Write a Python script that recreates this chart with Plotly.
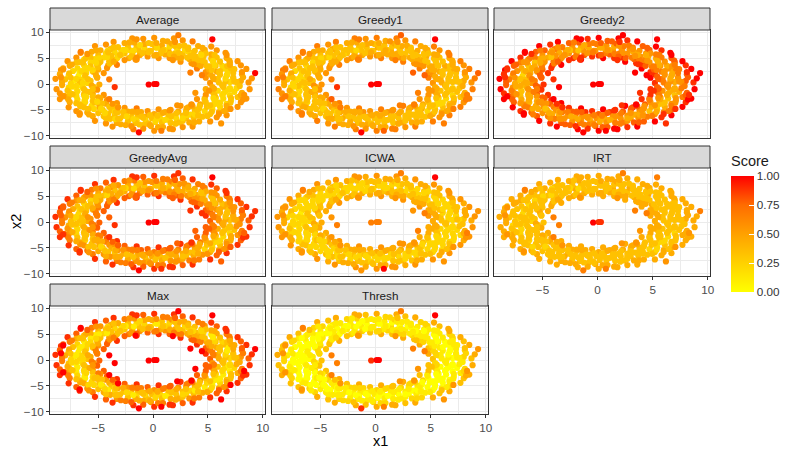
import plotly.graph_objects as go

# point cloud (x1, x2), grouped by angle around the ring
ring_pts = [
    (5.2,0.2),(6.3,-0.3),(7.0,0.4),(7.8,-0.1),(8.7,0.3),
    (5.7,0.9),(6.6,0.5),(7.3,1.0),(8.0,0.6),(9.0,1.1),
    (4.8,1.2),(5.9,1.0),(6.7,1.6),(7.3,1.3),(8.1,1.9),
    (5.2,1.9),(6.1,1.8),(6.8,2.4),(7.3,2.1),(8.5,2.9),
    (4.8,2.3),(5.8,2.4),(6.4,3.0),(7.1,3.0),(8.0,3.6),
    (5.1,2.8),(5.7,3.5),(6.3,3.5),(7.0,4.2),(7.7,4.4),
    (4.0,3.0),(4.9,3.4),(5.5,4.1),(6.1,4.3),(6.7,5.0),
    (4.1,3.8),(4.7,4.2),(5.3,4.9),(5.8,5.1),(6.6,6.0),
    (3.5,4.0),(4.2,4.6),(4.6,5.3),(5.3,5.7),(5.8,6.5),
    (3.3,4.8),(3.9,5.3),(4.4,5.9),(4.7,6.6),(5.3,7.2),
    (2.5,4.3),(3.1,5.1),(3.4,6.0),(3.8,6.4),(4.1,7.3),
    (2.2,5.1),(2.7,5.8),(2.9,6.6),(3.2,7.0),(3.6,8.2),
    (1.5,5.0),(2.0,5.9),(2.2,6.7),(2.4,7.3),(2.7,8.4),
    (1.1,5.7),(1.4,6.4),(1.5,7.2),(1.7,7.8),(1.9,8.8),
    (0.5,5.0),(0.7,5.9),(0.7,6.8),(0.8,7.4),(0.9,8.3),
    (0.1,5.5),(-0.2,6.4),(0.2,7.1),(-0.1,7.7),(0.1,8.9),
    (-0.5,5.3),(-0.7,6.2),(-0.8,7.0),(-0.8,7.7),(-0.9,8.7),
    (-1.2,5.6),(-1.3,6.5),(-1.5,7.1),(-1.7,8.0),(-1.9,8.8),
    (-1.5,4.7),(-1.9,5.7),(-2.1,6.5),(-2.3,7.1),(-2.6,7.9),
    (-2.2,5.0),(-2.6,5.9),(-2.9,6.4),(-3.2,7.1),(-3.6,8.1),
    (-2.6,4.6),(-3.2,5.4),(-3.5,6.1),(-3.9,6.7),(-4.3,7.6),
    (-3.4,4.7),(-3.8,5.4),(-4.3,5.9),(-4.8,6.5),(-5.3,7.3),
    (-3.3,3.7),(-4.0,4.4),(-4.5,5.1),(-5.0,5.5),(-5.6,6.2),
    (-4.1,3.6),(-4.8,4.3),(-5.3,4.8),(-5.7,5.1),(-6.6,6.0),
    (-4.2,3.1),(-5.1,3.6),(-5.7,4.1),(-6.3,4.7),(-7.0,5.1),
    (-5.0,2.8),(-5.7,3.4),(-6.3,3.6),(-7.0,4.1),(-7.8,4.4),
    (-4.5,2.1),(-5.5,2.4),(-6.2,2.8),(-6.9,3.0),(-7.6,3.5),
    (-5.2,1.6),(-6.1,2.1),(-6.7,2.2),(-7.3,2.5),(-8.4,2.7),
    (-5.1,1.2),(-6.2,1.3),(-6.8,1.5),(-7.7,1.6),(-8.5,1.9),
    (-5.7,0.6),(-6.6,0.8),(-7.2,0.7),(-8.0,0.9),(-8.9,1.0),
    (-4.9,-0.1),(-6.0,0.2),(-6.8,-0.2),(-7.5,0.1),(-8.3,-0.2),
    (-5.4,-0.6),(-6.4,-0.7),(-7.0,-0.8),(-7.7,-0.7),(-8.8,-1.0),
    (-5.1,-1.1),(-6.1,-1.4),(-6.9,-1.4),(-7.6,-1.7),(-8.5,-1.8),
    (-5.5,-1.9),(-6.3,-2.0),(-7.0,-2.3),(-7.7,-2.4),(-8.5,-2.9),
    (-4.5,-2.1),(-5.5,-2.4),(-6.2,-2.8),(-6.9,-3.0),(-7.6,-3.5),
    (-4.8,-2.7),(-5.5,-3.3),(-6.2,-3.5),(-6.6,-3.9),(-7.7,-4.5),
    (-4.2,-3.1),(-5.1,-3.6),(-5.6,-4.2),(-6.3,-4.5),(-7.0,-5.2),
    (-4.3,-3.8),(-4.9,-4.5),(-5.4,-4.8),(-6.0,-5.5),(-6.7,-5.9),
    (-3.3,-3.7),(-4.0,-4.4),(-4.6,-5.0),(-5.0,-5.6),(-5.5,-6.2),
    (-3.2,-4.5),(-3.8,-5.1),(-4.1,-5.8),(-4.5,-6.2),(-5.3,-7.1),
    (-2.6,-4.6),(-3.2,-5.4),(-3.5,-6.1),(-3.9,-6.7),(-4.3,-7.6),
    (-2.3,-5.3),(-2.7,-6.1),(-3.0,-6.6),(-3.3,-7.5),(-3.7,-8.2),
    (-1.5,-4.7),(-1.9,-5.6),(-2.1,-6.5),(-2.3,-7.2),(-2.5,-7.9),
    (-1.1,-5.4),(-1.4,-6.2),(-1.5,-7.0),(-1.6,-7.5),(-1.8,-8.7),
    (-0.5,-5.2),(-0.7,-6.3),(-0.7,-6.9),(-0.8,-7.8),(-0.9,-8.6),
    (0.1,-5.8),(-0.1,-6.6),(0.2,-7.3),(-0.2,-8.1),(0.1,-9.0),
    (0.5,-4.9),(0.6,-6.0),(0.7,-6.8),(0.8,-7.4),(0.9,-8.3),
    (1.1,-5.4),(1.4,-6.2),(1.5,-7.0),(1.6,-7.5),(1.8,-8.7),
    (1.6,-5.0),(2.0,-6.0),(2.1,-6.6),(2.4,-7.4),(2.7,-8.3),
    (2.3,-5.3),(2.7,-6.1),(3.0,-6.6),(3.3,-7.4),(3.6,-8.2),
    (2.5,-4.2),(3.0,-5.2),(3.4,-5.9),(3.7,-6.5),(4.2,-7.2),
    (3.2,-4.5),(3.8,-5.2),(4.1,-5.7),(4.5,-6.3),(5.2,-7.2),
    (3.5,-3.9),(4.2,-4.7),(4.7,-5.2),(5.2,-5.8),(5.8,-6.4),
    (4.3,-3.9),(4.9,-4.4),(5.4,-4.9),(6.0,-5.4),(6.7,-6.0),
    (4.0,-2.9),(4.8,-3.5),(5.5,-4.0),(6.1,-4.4),(6.7,-4.9),
    (4.7,-2.8),(5.6,-3.2),(6.1,-3.6),(6.7,-3.8),(7.7,-4.4),
    (4.8,-2.1),(5.7,-2.6),(6.4,-2.8),(7.1,-3.2),(8.0,-3.5),
    (5.5,-1.8),(6.3,-2.1),(7.0,-2.2),(7.7,-2.5),(8.5,-2.8),
    (4.8,-1.0),(5.9,-1.3),(6.6,-1.4),(7.4,-1.5),(8.1,-1.7),
    (5.4,-0.6),(6.4,-0.6),(7.0,-0.8),(7.6,-0.8),(8.8,-1.0),
]

fill_pts = [
    (6.0,0.3),(7.6,0.4),(6.6,1.05),(8.2,1.3),(5.4,1.45),(6.75,1.8),(6.0,2.3),(7.4,2.85),
    (5.35,2.7),(6.75,3.45),(5.6,3.65),(6.95,4.5),(4.35,3.5),(5.45,4.4),(4.5,4.5),(5.6,5.6),
    (3.8,4.65),(4.8,5.9),(3.65,5.6),(4.5,6.95),(2.55,5.0),(3.2,6.25),(2.3,6.0),(2.85,7.4),
    (1.55,5.8),(1.95,7.35),(1.05,6.6),(1.3,8.2),(0.3,5.6),(0.35,7.0),
    (-0.35,6.4),(-0.4,7.9),(-0.95,5.95),(-1.2,7.5),(-1.75,6.45),(-2.15,8.0),(-2.0,5.25),(-2.5,6.55),
    (-2.9,5.7),(-3.6,7.05),(-3.25,5.05),(-4.15,6.4),(-4.2,5.2),(-5.2,6.45),(-3.95,3.95),(-4.95,4.95),
    (-4.95,4.0),(-6.15,4.95),(-5.05,3.25),(-6.4,4.15),(-5.95,3.05),(-7.4,3.75),(-5.25,2.0),(-6.55,2.5),
    (-6.2,1.65),(-7.65,2.05),(-5.95,0.95),(-7.5,1.2),(-6.7,0.35),(-8.3,0.45),
    (-5.6,-0.3),(-7.0,-0.35),(-6.3,-1.0),(-7.8,-1.25),(-5.8,-1.55),(-7.35,-1.95),(-6.25,-2.4),(-7.75,-2.95),
    (-5.0,-2.55),(-6.25,-3.2),(-5.35,-3.5),(-6.65,-4.3),(-4.65,-3.75),(-5.9,-4.8),(-4.75,-4.75),(-5.85,-5.85),
    (-3.5,-4.35),(-4.4,-5.45),(-3.5,-5.35),(-4.3,-6.6),(-2.7,-5.35),(-3.45,-6.75),(-2.4,-6.25),(-2.95,-7.75),
    (-1.45,-5.4),(-1.8,-6.75),(-1.0,-6.3),(-1.25,-7.8),(-0.3,-6.0),(-0.4,-7.6),
    (0.35,-6.7),(0.45,-8.3),(0.9,-5.55),(1.1,-6.9),(1.65,-6.2),(2.05,-7.65),(2.15,-5.6),(2.7,-7.1),
    (3.05,-5.95),(3.75,-7.4),(3.05,-4.7),(3.8,-5.85),(4.0,-5.0),(4.95,-6.15),(4.25,-4.25),(5.35,-5.35),
    (5.2,-4.2),(6.45,-5.2),(4.7,-3.05),(5.85,-3.8),(5.7,-2.9),(7.05,-3.6),(5.6,-2.15),(7.1,-2.7),
    (6.45,-1.75),(8.0,-2.15),(5.55,-0.9),(6.9,-1.1),(6.4,-0.35),(7.9,-0.4),
]

extra_pts = [
    (7.4,0.5),(5.5,1.0),(8.1,2.3),(6.1,2.5),(7.0,3.7),(5.1,3.4),(6.7,5.6),(3.7,3.8),(4.4,5.6),(3.4,5.4),
    (3.2,6.7),(1.9,5.3),(2.0,8.1),(0.9,6.5),(0.3,7.9),
    (-0.4,6.1),(-1.5,8.6),(-1.5,5.1),(-2.7,6.6),(-3.0,5.6),(-4.1,6.1),(-3.6,4.3),(-6.0,5.8),(-5.2,4.1),(-6.7,4.2),
    (-5.5,2.7),(-8.2,3.0),(-5.1,1.3),(-7.0,1.0),(-6.4,0.2),
    (-7.4,-0.5),(-5.5,-1.0),(-8.1,-2.3),(-6.1,-2.5),(-7.0,-3.7),(-5.1,-3.4),(-6.7,-5.6),(-3.7,-3.8),(-4.4,-5.6),(-3.4,-5.4),
    (-3.2,-6.7),(-1.9,-5.3),(-2.0,-8.1),(-0.9,-6.5),(-0.3,-7.9),
    (0.4,-6.1),(1.5,-8.6),(1.5,-5.1),(2.7,-6.6),(3.0,-5.6),(4.1,-6.1),(3.6,-4.3),(6.0,-5.8),(5.2,-4.1),(6.7,-4.2),
    (5.5,-2.7),(8.2,-3.0),(5.1,-1.3),(7.0,-1.0),(6.4,-0.2),
]

outlier_pts = [
    (5.4,8.6),(2.3,9.4),(-6.6,6.2),(-8.2,2.8),(-8.4,1.3),(-8.2,-2.4),(-6.7,-5.7),(-4.0,0.9),
    (-3.5,-0.6),(-4.0,-2.9),(-3.2,-4.5),(-1.6,4.7),(1.8,4.6),(3.4,2.2),(4.45,1.7),(3.85,-1.7),
    (3.5,-4.0),(2.2,-4.1),(-1.3,-9.3),(0.75,-9.0),(9.3,2.1),(8.3,-2.1),(7.06,-4.8),(6.2,-7.6),
]
center_pts = [(-0.4,-0.1),(0.1,0.0),(0.3,0.0)]

# scores per method, one digit per point (0 -> 0.00 ... 9 -> 1.00), same order as the points
score_average = """
53235 43245 53234 43235 54235 43245 63234 43335 53345 43345 53334 43236 53235 44245 53344 43335
54245 43345 53234 43235 53235 43245 63234 43235 53225 43235 53224 32125 42124 32135 42124 32125
53225 43235 53224 43235 53235 44245 53334 43335 53335 43345 63334 43236 54235 43245 53234 43235
53235 43345 53234 43235 53235 43245 53224 32225 53225 32235 42224 43225
33 24 42 33 33 24 42 33 33 34 42 33 33 24 42 33 32 24 32 23 22 24 32 33 33 24 42 33 33 34 42 33
33 24 42 33 33 24 32 23 32 24 42 33 33 24 42 33 33 24 42 33 33 24 32 23 33 24 42 33
3453435523 3453435523 3452324422 2342324523 3453435523 3453425523
966555568655566555969555 999
"""
score_greedy1 = """
54345 43346 64334 53336 54345 43446 64334 53336 54445 43346 64344 53336 54345 44346 64334 53436
54345 43346 64334 53336 55345 43346 64334 53336 54235 43236 53234 43226 43235 32236 53224 42226
54235 43236 53234 43236 54345 43346 64334 53336 54345 43446 64344 53336 54345 43346 64334 53336
54345 43346 64334 53336 54245 43346 53234 42236 54235 43236 53234 43236
43 34 43 34 43 34 53 34 43 34 43 34 43 35 43 34 33 24 43 23 33 24 42 34 43 34 43 34 43 34 53 34
43 34 43 34 33 24 43 24 43 34 43 34 43 34 43 34 43 34 43 34 33 24 42 24 43 34 43 34
3453446533 3454446533 3453335423 2343335533 3453446533 3453436533
976666668766677666977666 999
"""
score_greedy2 = """
86468 75479 96457 85469 86568 75479 96557 85469 86468 75579 96457 85569 86568 75479 96457 85469
86468 75479 96557 85469 86468 75579 96457 85469 85358 74369 85347 74359 74248 63369 85347 74259
85358 74369 85347 74359 86468 75479 96457 85469 86468 75579 96457 85569 86468 75479 96457 85469
86568 75479 96457 85469 85358 74369 85347 74359 85358 74369 85347 75469
65 47 74 56 65 47 74 56 65 47 74 56 65 47 74 56 54 36 63 45 54 36 64 56 65 47 74 56 65 47 74 56
65 47 74 56 54 36 63 45 65 47 74 56 65 47 74 56 65 47 74 56 54 36 63 45 65 47 74 56
5785669845 5785769845 5784558734 4674558845 5785669845 5785659845
999889989988899898999888 999
"""
score_greedyavg = """
75357 64368 85346 74358 75457 64368 85446 74358 75357 64468 85346 74458 75457 64368 85346 74358
75357 64368 85446 74358 75357 64468 85346 74358 74247 63258 74236 63248 63247 53258 74236 63248
74247 63258 74236 63248 75357 64368 85346 74358 75357 64468 85346 74458 75357 64368 85346 74358
75457 64368 85346 74358 74247 63258 74236 63248 74247 63258 74236 64358
54 36 63 45 54 36 63 45 54 36 63 45 54 36 63 45 43 25 52 34 43 25 53 45 54 36 63 45 54 36 63 45
54 36 63 45 43 25 52 34 54 36 63 45 54 36 63 45 54 36 63 45 43 25 52 34 54 36 63 45
4674558734 4674658734 4673447623 3563447734 4674558734 4674548734
988778878877788787988777 999
"""
score_icwa = """
43234 42235 53224 42235 43234 42235 53224 42235 43334 42335 53324 42235 43234 43235 53224 42335
43234 42235 53224 42235 43234 42235 53224 42235 42224 32225 42224 32225 32124 32125 42124 32125
42224 32225 42224 32225 43234 42235 53224 42235 43234 42335 53324 42235 43234 42235 53224 42235
43234 42235 53224 42235 42224 32225 42224 32225 42224 32225 42224 42235
32 24 42 33 32 24 42 33 32 24 42 33 32 24 42 33 22 23 32 22 22 23 32 23 32 24 42 33 32 24 42 33
32 24 42 33 22 23 32 22 32 24 42 33 32 24 42 33 32 24 42 33 22 23 32 22 32 24 42 33
3442335423 3442335423 3442224322 2332224423 3442335423 3442325423
966555556555556655595655 666
"""
score_irt = """
43334 43344 43334 43334 43334 43344 44334 43334 43434 43344 43334 43434 43334 44344 43334 43334
43334 43344 43434 43334 43334 43344 43334 43334 43234 33244 43234 33234 32234 33234 32234 33224
43234 33244 43234 33234 43334 43344 43334 43334 43334 43444 43334 43334 43334 43344 43334 43334
43334 43344 43334 43334 43234 33244 43234 33234 43234 33244 43234 43334
33 34 43 33 33 34 43 33 33 34 43 33 33 34 43 33 33 23 32 33 32 23 32 33 33 34 43 33 33 34 43 33
33 34 43 33 32 23 32 33 33 34 43 33 33 34 43 33 33 34 43 33 32 23 32 33 33 34 43 33
3443334433 3443434433 3443333333 3333334433 3443334433 3443334433
666555566655566555666555 988
"""
score_max = """
74247 53258 84236 63148 74347 53258 84336 63148 74247 53358 84236 63248 74347 53258 84236 63148
74247 53258 84336 63148 74247 53358 84236 63148 73137 52148 73126 52138 62137 42148 73126 52038
73137 52148 73126 52138 74247 53258 84236 63148 74247 53358 84236 63248 74247 53258 84236 63148
74347 53258 84236 63148 73137 52148 73126 52138 73137 52148 73126 53248
43 26 61 34 43 26 61 34 43 26 62 34 43 26 61 34 32 15 51 23 32 15 51 34 43 26 61 34 43 26 62 34
43 26 61 34 32 15 51 23 43 26 61 34 43 26 61 34 43 26 61 34 32 15 51 23 43 26 61 34
3673448723 3673548723 3672337612 2562337723 3673448723 3673438723
999999999999999999999999 999
"""
score_thresh = """
31013 21024 41012 21014 31013 21024 41012 21014 31113 21124 41112 21014 31013 22024 41012 21114
31013 21024 41112 21014 31013 21024 41012 21014 30003 20014 30002 10003 20003 10014 30002 10003
30003 20014 30002 10003 31013 21024 41012 21014 31013 21124 41112 21014 31013 21024 41012 21014
31013 21024 41012 21014 30003 20014 30002 10003 30003 20014 30002 21014
11 02 20 11 11 02 20 11 11 02 20 11 11 02 20 11 00 01 10 01 00 01 10 11 11 02 20 11 11 02 20 11
11 02 20 11 00 01 10 01 11 02 20 11 11 02 20 11 11 02 20 11 00 01 10 01 11 02 20 11
1230114301 1231114301 1230003200 0120003301 1230114301 1230104301
966555566655566555865555 899
"""

methods = ["Average", "Greedy1", "Greedy2", "GreedyAvg", "ICWA", "IRT", "Max", "Thresh"]
scores = [score_average, score_greedy1, score_greedy2, score_greedyavg,
          score_icwa, score_irt, score_max, score_thresh]

pts = ring_pts + fill_pts + extra_pts + outlier_pts + center_pts
x1 = [p[0] for p in pts]
x2 = [p[1] for p in pts]

def decode(s):
    d = [int(c) / 9 for c in s if c.isdigit()]
    assert len(d) == len(pts), (len(d), len(pts))
    return d

# panel geometry (paper coords, 800x459 page)
col_dom = [(50/800, 265/800), (272/800, 488/800), (494/800, 710/800)]
row_dom = [(1-138/459, 1-30/459), (1-276/459, 1-168/459), (1-414/459, 1-306/459)]
strip_h = 22/459
font = "Liberation Sans, Arial, sans-serif"

fig = go.Figure()
layout = dict(
    width=800, height=459, margin=dict(l=0, r=0, t=0, b=0, autoexpand=False),
    paper_bgcolor="white", plot_bgcolor="white", showlegend=False,
    font=dict(family=font, color="#4D4D4D"),
    coloraxis=dict(
        cmin=0, cmax=1,
        colorscale=[[0, "#FFFF00"], [0.25, "#FFD100"], [0.5, "#FFA100"],
                    [0.75, "#FF6C00"], [1, "#FF0000"]],
        colorbar=dict(
            x=731/800, xanchor="left", y=1-292/459, yanchor="bottom",
            len=116/459, lenmode="fraction", thickness=23, thicknessmode="pixels",
            xpad=0, ypad=0,
            outlinewidth=0, ticks="inside", tickcolor="white", ticklen=5,
            tickvals=[0, 0.25, 0.5, 0.75, 1],
            ticktext=["0.00", "0.25", "0.50", "0.75", "1.00"],
            tickfont=dict(size=11.7, color="#333333"),
        ),
    ),
)
shapes = []
annotations = []

for i, (name, s) in enumerate(zip(methods, scores)):
    r, c = divmod(i, 3)
    k = "" if i == 0 else str(i + 1)
    fig.add_trace(go.Scatter(
        x=x1, y=x2, mode="markers", xaxis="x" + k, yaxis="y" + k,
        marker=dict(size=6.2, color=decode(s), coloraxis="coloraxis", line=dict(width=0)),
        hoverinfo="skip",
    ))
    show_x = (r == 2) or (i == 5)
    show_y = (c == 0)
    layout["xaxis" + k] = dict(
        domain=col_dom[c], anchor="y" + k, range=[-9.4, 10.2],
        tickvals=[-5, 0, 5, 10], showticklabels=show_x,
        ticks="outside" if show_x else "", ticklen=3, tickcolor="#333333",
        tickfont=dict(size=11.7, color="#4D4D4D"),
        showgrid=True, gridcolor="#EBEBEB", gridwidth=1, zeroline=False,
        minor=dict(tickvals=[-7.5, -2.5, 2.5, 7.5], showgrid=True, gridcolor="#EBEBEB", gridwidth=0.5),
        showline=True, mirror=True, linecolor="#333333", linewidth=1,
    )
    layout["yaxis" + k] = dict(
        domain=row_dom[r], anchor="x" + k, range=[-10.4, 10.4],
        tickvals=[-10, -5, 0, 5, 10], showticklabels=show_y,
        ticks="outside" if show_y else "", ticklen=3, tickcolor="#333333",
        tickfont=dict(size=11.7, color="#4D4D4D"),
        showgrid=True, gridcolor="#EBEBEB", gridwidth=1, zeroline=False,
        minor=dict(tickvals=[-7.5, -2.5, 2.5, 7.5], showgrid=True, gridcolor="#EBEBEB", gridwidth=0.5),
        showline=True, mirror=True, linecolor="#333333", linewidth=1,
    )
    # facet strip
    y0 = row_dom[r][1]
    shapes.append(dict(type="rect", xref="paper", yref="paper",
                       x0=col_dom[c][0], x1=col_dom[c][1], y0=y0, y1=y0 + strip_h,
                       fillcolor="#D9D9D9", line=dict(color="#333333", width=1)))
    annotations.append(dict(text=name, xref="paper", yref="paper",
                            x=(col_dom[c][0] + col_dom[c][1]) / 2, y=y0 + strip_h / 2,
                            showarrow=False, xanchor="center", yanchor="middle",
                            font=dict(size=11.7, color="#1A1A1A")))

annotations.append(dict(text="x1", xref="paper", yref="paper", x=380/800, y=1-441/459,
                        showarrow=False, xanchor="center", yanchor="middle",
                        font=dict(size=14.5, color="#000000")))
annotations.append(dict(text="x2", xref="paper", yref="paper", x=16/800, y=1-222/459,
                        showarrow=False, xanchor="center", yanchor="middle", textangle=-90,
                        font=dict(size=14.5, color="#000000")))
# legend title
annotations.append(dict(text="Score", xref="paper", yref="paper", x=729/800, y=1-161/459,
                        showarrow=False, xanchor="left", yanchor="middle",
                        font=dict(size=14.5, color="#1A1A1A")))

layout["shapes"] = shapes
layout["annotations"] = annotations
fig.update_layout(**layout)
fig.write_html("out.html", config={"displayModeBar": False},
               post_script="document.body.style.margin='0';")
